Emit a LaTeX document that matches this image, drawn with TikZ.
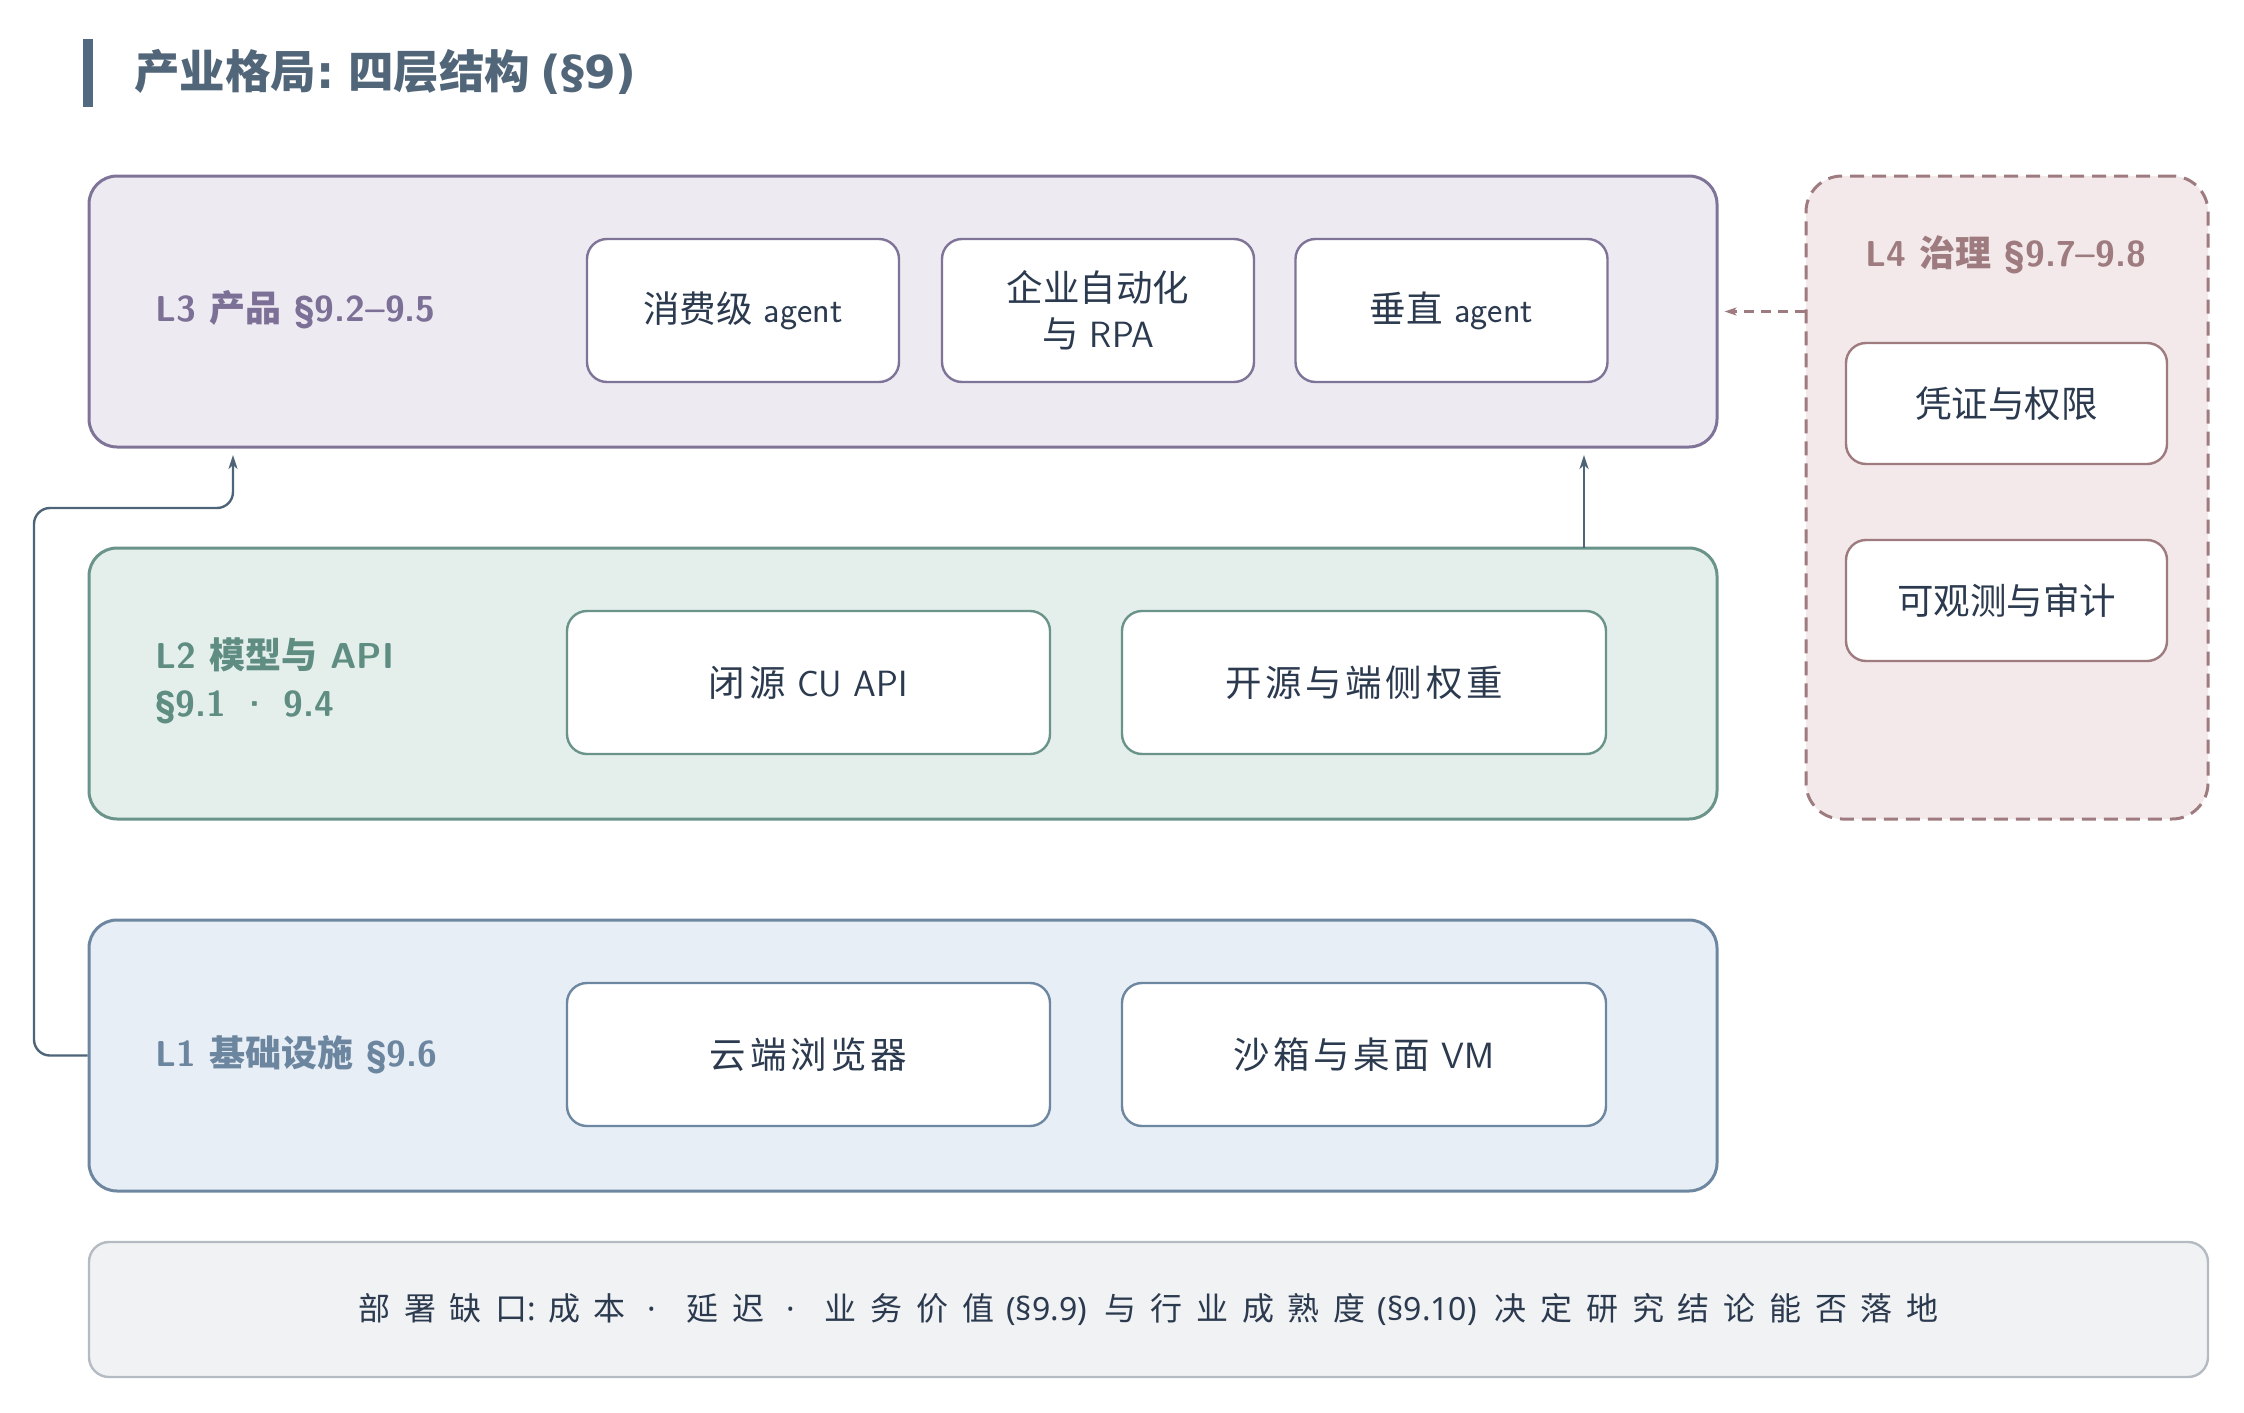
\documentclass[tikz,border=0pt]{standalone}
\usepackage{fontspec}
\usetikzlibrary{arrows.meta}
\newfontfamily\cjk{Noto Sans CJK SC}
\newfontfamily\cjkt{Noto Sans CJK SC}[LetterSpace=10]
\newfontfamily\cjkw{Noto Sans CJK SC}[LetterSpace=43]
\newfontfamily\lat{DejaVu Sans}
\newfontfamily\nlat{Noto Sans}
\definecolor{ttl}{HTML}{52667A}
\definecolor{bar}{HTML}{526A80}
\definecolor{txt}{HTML}{2B3A4E}
\definecolor{arr}{HTML}{4E6478}
\definecolor{pf}{HTML}{EDEAF2}\definecolor{ps}{HTML}{7F7498}\definecolor{pl}{HTML}{7D7096}
\definecolor{gf}{HTML}{E4EFEC}\definecolor{gs}{HTML}{6A9489}\definecolor{gl}{HTML}{5F8D82}
\definecolor{bf}{HTML}{E7EEF5}\definecolor{bs}{HTML}{6E87A1}\definecolor{bl}{HTML}{6C86A0}
\definecolor{rf}{HTML}{F3E8EA}\definecolor{rs}{HTML}{9E7B7F}
\definecolor{nf}{HTML}{F1F2F4}\definecolor{ns}{HTML}{B5BBC3}
\newcommand\C[1]{{\cjk #1}}
\newcommand\W[1]{{\cjkw #1}}
\newcommand\N[1]{{\nlat #1}}
\begin{document}
\begin{tikzpicture}[x=1pt,y=-1pt,
  layer/.style={draw, line width=3pt, rounded corners=28pt, minimum width=1628pt, minimum height=271pt, inner sep=0pt},
  item/.style={draw, fill=white, line width=2.4pt, rounded corners=20pt, inner sep=0pt, text=txt, align=center,
    font=\sffamily\fontsize{36.5}{46}\selectfont},
  lbl/.style={font=\sffamily\bfseries\fontsize{36}{48}\selectfont, align=left, anchor=west, inner sep=0pt},
  arrow/.style={draw=arr, line width=2.4pt, -{Stealth[length=14pt,width=9pt,inset=4pt]}},
]
\useasboundingbox (0,0) rectangle (2244,1413);
% title
\fill[bar] (83,39) rectangle (93,107);
\node[anchor=west, inner sep=0pt, text=ttl, font=\cjk\bfseries\fontsize{45.5}{52}\selectfont] (title) at (134,72) {产业格局{\lat:} 四层结构 {\lat (§9)}};

% layers
\node[layer, fill=pf, draw=ps] (L3) at (903,311.5) {};
\node[layer, fill=gf, draw=gs] (L2) at (903,683.5) {};
\node[layer, fill=bf, draw=bs] (L1) at (903,1055.5) {};
\node[draw=rs, fill=rf, dashed, dash pattern=on 14pt off 8pt, line width=3pt, rounded corners=36pt,
  minimum width=402pt, minimum height=643pt, inner sep=0pt] (L4) at (2007,497.5) {};
\node[draw=ns, fill=nf, line width=2.4pt, rounded corners=20pt, minimum width=2119pt, minimum height=135pt, inner sep=0pt] (B) at (1148.5,1309.5) {};

% labels
\node[lbl, text=pl] (l3t) at (155,310) {L3 \C{产品} §9.2–9.5};
\node[lbl, text=gl] (l2t) at (155,681) {L2 \C{模型与} API\\§9.1 · 9.4};
\node[lbl, text=bl] (l1t) at (155,1055) {L1 \C{基础设施} §9.6};
\node[lbl, anchor=center, text=rs] (l4t) at (2006,255) {L4 \C{治理} §9.7–9.8};

% items
\node[item, draw=ps, minimum width=312pt, minimum height=143pt] (c1) at (743,310.5) {\C{消费级} agent};
\node[item, draw=ps, minimum width=312pt, minimum height=143pt] (c2) at (1098,310.5) {\C{企业自动化}\\\C{与} RPA};
\node[item, draw=ps, minimum width=312pt, minimum height=143pt] (c3) at (1451.5,310.5) {\C{垂直} agent};
\node[item, draw=gs, minimum width=483pt, minimum height=143pt] (m1) at (808.5,682.5) {{\cjkt 闭源} CU API};
\node[item, draw=gs, minimum width=484pt, minimum height=143pt] (m2) at (1364,682.5) {{\cjkt 开源与端侧权重}};
\node[item, draw=bs, minimum width=483pt, minimum height=143pt] (i1) at (808.5,1054.5) {{\cjkt 云端浏览器}};
\node[item, draw=bs, minimum width=484pt, minimum height=143pt] (i2) at (1364,1054.5) {{\cjkt 沙箱与桌面} VM};
\node[item, draw=rs, minimum width=321pt, minimum height=121pt] (g1) at (2006.5,403.5) {\C{凭证与权限}};
\node[item, draw=rs, minimum width=321pt, minimum height=121pt] (g2) at (2006.5,600.5) {\C{可观测与审计}};

% bottom text
\node[inner sep=0pt, text=txt, font=\cjk\fontsize{32}{40}\selectfont] (bt) at (B.center)
  {\W{部署缺口}\N{:}\hspace{12pt}\W{成本}\hspace{22pt}\N{·}\hspace{30pt}\W{延迟}\hspace{22pt}\N{·}\hspace{30pt}\W{业务价值}\hspace{12pt}\N{(§9.9)}\hspace{18pt}\W{与行业成熟度}\hspace{12pt}\N{(§9.10)}\hspace{18pt}\W{决定研究结论能否落地}};

% connectors
\coordinate (a2s) at (1584,548);
\coordinate (a2e) at (1584,447);
\draw[arrow, shorten >=8pt] (a2s) -- (a2e);
\coordinate (k1) at (34,1055.5);
\coordinate (k2) at (34,508);
\coordinate (k3) at (233,508);
\coordinate (k4) at (233,447);
\draw[arrow, shorten >=8pt, rounded corners=16pt] (L1.west) -- (k1) -- (k2) -- (k3) -- (k4);
\draw[draw=rs, line width=2.4pt, dash pattern=on 10pt off 7pt, -{Stealth[length=12pt,width=8pt,inset=3pt]}, shorten >=6pt]
  (L4.west |- L3.east) -- (L3.east);
\end{tikzpicture}
\end{document}
